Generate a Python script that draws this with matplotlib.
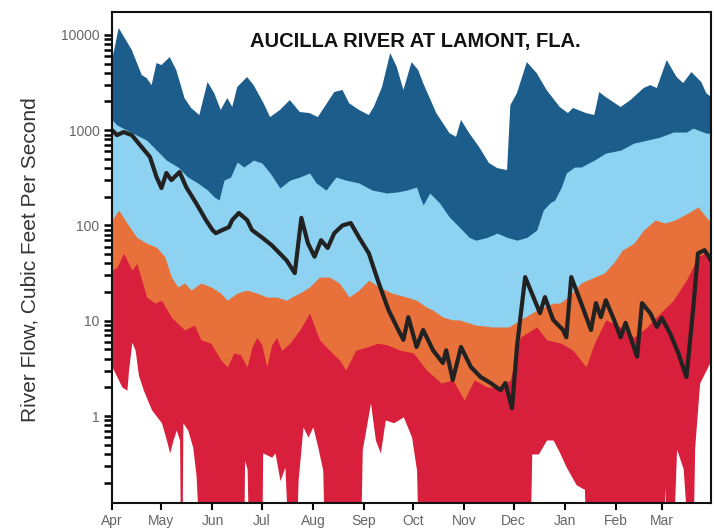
import numpy as np
import matplotlib
matplotlib.use('Agg')
import matplotlib.pyplot as plt
from matplotlib.ticker import FixedLocator, FixedFormatter, LogLocator, NullFormatter

plt.rcParams['font.family'] = ['Liberation Sans', 'DejaVu Sans']

# day of water year (0 = Apr 1) and flow in cubic feet per second
max_days = [0, 4, 12, 18, 21, 24, 27, 30, 35, 39, 44, 48, 53, 58, 62, 66, 70, 73, 76, 82, 86, 92,
            96, 102, 108, 114, 120, 125, 131, 135, 140, 144, 150, 156, 159, 164, 169, 173, 177, 182,
            186, 189, 197, 205, 209, 212, 217, 223, 229, 234, 240, 242, 246, 252, 258, 264, 272, 277,
            280, 288, 293, 296, 300, 309, 315, 323, 327, 331, 337, 343, 347, 352, 358, 361, 364]
max_flow = [5440, 11800, 6920, 3790, 3520, 2970, 5060, 4820, 5850, 4270, 2170, 1710, 1440, 3200, 2450,
            1630, 2170, 1750, 2830, 3610, 2970, 1920, 1370, 1630, 2070, 1550, 1510, 1370, 1970, 2510,
            2640, 1920, 1630, 1440, 1750, 2830, 6440, 4600, 2640, 5180, 4270, 3120, 1510, 930, 850,
            1280, 930, 665, 452, 400, 381, 1830, 2450, 5180, 3970, 2640, 1750, 1510, 1710, 1510, 1440,
            2510, 2220, 1750, 2070, 2770, 2970, 2770, 5440, 3610, 3120, 4070, 3200, 2450, 2220]

upper_days = [0, 3, 9, 15, 21, 27, 33, 40, 46, 52, 58, 62, 65, 68, 72, 76, 80, 86, 91, 96, 102, 108,
              114, 120, 124, 130, 136, 142, 150, 158, 167, 173, 179, 185, 187, 189, 193, 199, 205, 211,
              217, 221, 228, 234, 240, 246, 252, 258, 262, 266, 269, 273, 276, 281, 285, 293, 300, 309,
              317, 325, 333, 341, 349, 353, 361, 364]
upper_flow = [1280, 1130, 1000, 887, 786, 617, 485, 410, 322, 279, 235, 199, 185, 299, 322, 463, 410,
              485, 452, 355, 247, 299, 322, 355, 279, 235, 322, 299, 279, 235, 219, 224, 235, 253, 199,
              164, 219, 172, 122, 96, 75, 70, 75, 83, 75, 70, 75, 89.5, 145, 172, 185, 253, 355, 410,
              410, 485, 575, 617, 731, 786, 845, 955, 955, 1050, 930, 930]

mid_days = [0, 4, 9, 15, 21, 27, 32, 36, 40, 44, 48, 54, 60, 66, 70, 76, 82, 88, 94, 100, 106, 109,
            114, 120, 126, 132, 138, 144, 150, 156, 162, 170, 179, 185, 191, 195, 201, 207, 211, 221,
            231, 241, 248, 258, 268, 272, 277, 285, 293, 299, 305, 310, 317, 323, 330, 336, 342, 350,
            356, 364]
mid_flow = [114, 145, 106, 75, 65, 59, 47, 28.7, 22.6, 24.9, 21, 24.9, 22.6, 19.5, 16.4, 19.5, 21, 19.5,
            17.7, 17.7, 16.4, 17.7, 19.5, 22.6, 28.7, 28.7, 24.9, 17.7, 21, 26.7, 22.6, 19.5, 17.7,
            16.4, 13.9, 12.9, 10.9, 10.2, 10.2, 9.0, 8.6, 8.6, 10.2, 12.9, 15.3, 15.3, 17.7, 24.9,
            28.7, 31.6, 41, 55, 65, 89.5, 114, 106, 114, 135, 156, 106]

lower_days = [0, 3, 7, 12, 15, 18, 21, 26, 30, 36, 44, 50, 54, 60, 66, 70, 74, 78, 82, 85, 88, 91,
              94, 97, 100, 103, 108, 114, 120, 126, 132, 138, 142, 148, 155, 161, 167, 175, 183, 191,
              200, 207, 214, 220, 228, 236, 242, 248, 258, 264, 273, 280, 288, 293, 300, 309, 317, 325,
              333, 341, 349, 356, 360, 364]
lower_flow = [34, 36.6, 51, 34, 40, 26.7, 17.7, 15.3, 16.4, 10.9, 8.0, 9.0, 6.3, 5.8, 3.9, 3.27, 4.6,
              4.4, 3.27, 5.3, 6.7, 5.6, 3.27, 5.6, 6.7, 4.9, 5.8, 8.0, 12.0, 6.3, 4.9, 3.9, 3.04, 4.9,
              5.3, 5.8, 5.6, 4.9, 4.6, 3.04, 2.22, 2.39, 1.47, 2.39, 2.01, 2.01, 2.39, 6.7, 8.6, 6.3,
              5.8, 4.9, 3.27, 5.8, 10.2, 8.6, 6.7, 8.6, 12.0, 16.4, 26.7, 47, 51, 51]

# 0.05 = below the bottom of the chart
min_days = [0, 6, 9, 10, 12, 14, 16, 19, 24, 30, 33, 35, 37, 39, 41, 41.5, 42.5, 43, 46, 49, 51, 53,
            80, 80.5, 82, 83, 91, 91.5, 97, 99, 102, 105, 107, 112, 113, 116, 119, 122, 125, 128, 129,
            151, 152, 157, 160, 163, 166, 171, 177, 182, 185, 186, 254, 255, 259, 264, 268, 272, 276,
            282, 287, 288, 335, 336, 337, 341, 343, 347, 350, 353, 354, 357, 364]
min_flow = [3.27, 2.01, 1.87, 3.04, 5.97, 4.9, 2.69, 1.87, 1.16, 0.85, 0.56, 0.41, 0.56, 0.71, 0.56,
            0.05, 0.05, 0.85, 0.71, 0.47, 0.24, 0.05, 0.05, 0.34, 0.28, 0.05, 0.05, 0.41, 0.37, 0.41,
            0.21, 0.29, 0.05, 0.05, 0.21, 0.77, 0.6, 0.77, 0.47, 0.27, 0.05, 0.05, 0.44, 1.37, 0.56,
            0.41, 0.91, 0.85, 0.98, 0.6, 0.27, 0.05, 0.05, 0.4, 0.4, 0.56, 0.56, 0.41, 0.29, 0.19,
            0.17, 0.05, 0.05, 0.18, 0.05, 0.05, 0.45, 0.28, 0.05, 0.05, 0.47, 2.22, 3.87]

cur_days = [0, 3, 7, 12, 16, 23, 27, 30, 33, 36, 41, 45, 51, 57, 61, 63, 67, 71, 73, 77, 82, 85, 91,
            97, 106, 111, 115, 119, 123, 127, 131, 135, 140, 145, 150, 156, 162, 168, 173, 177, 180,
            185, 189, 195, 201, 203, 207, 212, 218, 224, 230, 236, 239, 243, 246, 251, 256, 260, 263,
            268, 274, 276, 279, 285, 291, 294, 297, 300, 305, 309, 312, 319, 322, 327, 331, 334, 339,
            344, 349, 353, 356, 360, 364]
cur_flow = [1000, 887, 955, 887, 731, 523, 322, 247, 355, 299, 363, 253, 172, 114, 89.5, 83, 89.5, 96,
            114, 135, 114, 89.5, 75, 62, 43, 31.6, 120, 65, 47, 70, 58, 83, 100, 106, 75, 51, 24.9,
            12.9, 8.6, 6.3, 10.9, 5.3, 8.0, 4.9, 3.6, 4.9, 2.39, 5.3, 3.27, 2.56, 2.22, 1.87, 2.22,
            1.21, 5.3, 28.7, 17.7, 12.0, 17.7, 10.2, 8.0, 6.7, 28.7, 15.3, 8.0, 15.3, 10.9, 16.4,
            10.2, 6.7, 9.5, 4.2, 15.3, 12.0, 8.6, 10.7, 7.4, 4.6, 2.56, 12.9, 51, 55, 43]

month_days = [0, 30, 61, 91, 122, 153, 183, 214, 244, 275, 306, 334]
month_labels = ['Apr', 'May', 'Jun', 'Jul', 'Aug', 'Sep', 'Oct', 'Nov', 'Dec', 'Jan', 'Feb', 'Mar']

fig = plt.figure(figsize=(7.14, 5.29), dpi=100)
ax = fig.add_axes([0.157, 0.049, 0.839, 0.928])
ax.set_yscale('log')

floor = 0.01
ax.fill_between(max_days, max_flow, floor, color='#1c5d8c', lw=0)
ax.fill_between(upper_days, upper_flow, floor, color='#8dd2f0', lw=0)
ax.fill_between(mid_days, mid_flow, floor, color='#e8703a', lw=0)
ax.fill_between(lower_days, lower_flow, floor, color='#d81f3c', lw=0)
ax.fill_between(min_days, min_flow, floor, color='white', lw=0)
ax.plot(cur_days, cur_flow, color='#222222', lw=3, solid_joinstyle='round')

ax.set_xlim(0, 364)
ax.set_ylim(0.122, 17300)

ax.xaxis.set_major_locator(FixedLocator(month_days))
ax.xaxis.set_major_formatter(FixedFormatter(month_labels))
ax.yaxis.set_major_locator(FixedLocator([1, 10, 100, 1000, 10000]))
ax.yaxis.set_major_formatter(FixedFormatter(['1', '10', '100', '1000', '10000']))
ax.yaxis.set_minor_locator(LogLocator(base=10, subs=np.arange(2, 10)))
ax.yaxis.set_minor_formatter(NullFormatter())

ax.tick_params(axis='y', which='major', length=6, width=1.8, labelsize=10, labelcolor='#666666', pad=3)
ax.tick_params(axis='y', which='minor', length=6, width=1.8)
ax.tick_params(axis='x', which='major', length=5, width=1.5, labelsize=10, labelcolor='#666666', pad=3)

for s in ax.spines.values():
    s.set_linewidth(1.5)
    s.set_color('#111111')

ax.text(0.506, 0.94, 'AUCILLA RIVER AT LAMONT, FLA.', transform=ax.transAxes,
        ha='center', va='center', fontsize=14.5, fontweight='bold', color='#111111')
fig.text(0.042, 0.51, 'River Flow, Cubic Feet Per Second', rotation=90, ha='center', va='center',
         fontsize=15, color='#333333')

fig.savefig('out.png', dpi=100)
